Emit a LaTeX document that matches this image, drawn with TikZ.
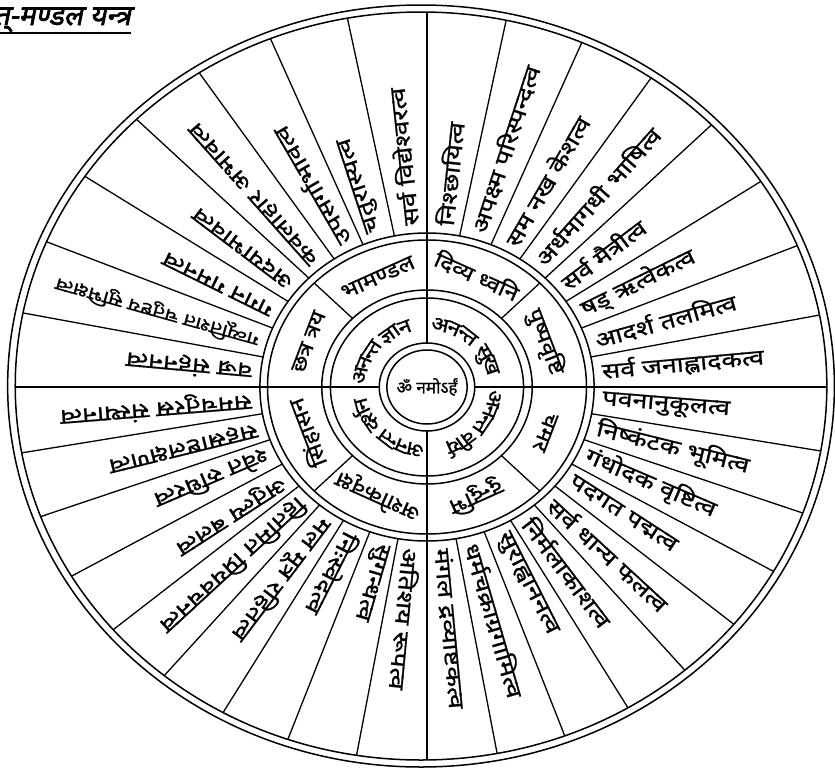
\documentclass[tikz,border=0pt]{standalone}
\usepackage{fontspec}
\setmainfont{Noto Sans}[Script=Devanagari,FakeBold=1]
\newfontfamily\gunafont{Noto Sans}[Script=Devanagari,FakeBold=1,FakeStretch=1.25]
\newfontfamily\pratifont{Noto Sans}[Script=Devanagari,FakeBold=1,FakeStretch=1.15]
\newfontfamily\titlefont{Noto Sans}[Script=Devanagari,FakeSlant=0.2,FakeBold=2.5]

\begin{document}
\begin{tikzpicture}[
    x=1pt, y=1pt,
    ring/.style={line width=1.5pt},
    spoke/.style={line width=1.3pt},
    guna/.style={font=\gunafont\fontsize{21.5}{21.5}\selectfont, inner sep=1pt, anchor=west},
    pratihar/.style={font=\pratifont\fontsize{21}{21}\selectfont, inner sep=0pt, anchor=base},
    anant/.style={font=\pratifont\fontsize{20}{20}\selectfont, inner sep=0pt, anchor=base}
]
    \useasboundingbox (0,0) rectangle (835,-769);
    \clip (0,0) rectangle (835,-769);

    % Title
    \node[font=\titlefont\fontsize{28}{28}\selectfont, anchor=base east, inner sep=0pt] (title) at (131,-25) {अर्हत्-मण्डल यन्त्र};
    \draw[line width=1.5pt] ([yshift=-8pt]title.base west) -- ([yshift=-8pt]title.base east);

    \begin{scope}[shift={(427,-387)}, xscale=1.085]
        % Rings
        \draw[ring] (0,0) circle (37) (0,0) circle (44);
        \draw[ring] (0,0) circle (89) (0,0) circle (97);
        \draw[ring] (0,0) circle (147) (0,0) circle (154);
        \draw[ring] (-5.5,1) circle (374) (-5.5,1) circle (381);

        % Spokes
        \begin{scope}
            \clip (-5.5,1) circle (374);
            \foreach \a in {0,90,180,270}
                \draw[spoke] (\a:44) -- (\a:400);
            \foreach \k in {1,...,7} {
                \draw[spoke] ({90-11.25*\k}:154) -- ({90-11.25*\k}:400);
                \draw[spoke] ({90+11.25*\k}:154) -- ({90+11.25*\k}:400);
            }
            \foreach \k in {1,...,8} {
                \draw[spoke] ({-90+10*\k}:154) -- ({-90+10*\k}:400);
                \draw[spoke] ({-90-10*\k}:154) -- ({-90-10*\k}:400);
            }
        \end{scope}
        \foreach \a in {45,135,225,315}
            \draw[spoke] (\a:97) -- (\a:147);

        % Centre
        \node[font=\fontsize{17}{17}\selectfont, inner sep=0pt] (mantra) at (0,0) {ॐ नमोऽर्हं};

        % Ananta chatushtaya
        \foreach \b/\c/\d [count=\i] in {135/अ/-34, 135/न/-22, 135/न्त/-9, 135/ज्ञा/12, 135/न/26,
                                         45/अ/-34, 45/न/-22, 45/न्त/-9, 45/सु/12, 45/ख/25,
                                         -45/अ/-34, -45/न/-22, -45/न्त/-9, -45/वी/11, -45/र्य/23,
                                         -135/अ/-35, -135/न/-23, -135/न्त/-10, -135/द/8, -135/र्श/18, -135/न/29} {
            \pgfmathsetmacro\p{\b-\d}
            \pgfmathsetmacro\rot{atan2(sin(\p),1.085*cos(\p))-90}
            \node[anant, rotate=\rot] (anant-\i) at (\p:57) {\c};
        }

        % Pratiharya
        \foreach \a/\t [count=\i] in {112.5/भामण्डल, 67.5/दिव्य ध्वनि, 22.5/पुष्पवृष्टि, -22.5/चमर,
                                      -67.5/दुन्दुभि, -112.5/अशोकवृक्ष, -157.5/सिंहासन, 157.5/छत्र त्रय} {
            \pgfmathsetmacro\rot{atan2(sin(\a),1.085*cos(\a))-90}
            \node[pratihar, rotate=\rot] (pratiharya-\i) at (\a:112) {\t};
        }

        % Atishaya
        \foreach \a/\t [count=\i] in {84.375/निश्छायित्व, 73.125/अपक्ष्म परिस्पन्दत्व, 61.875/सम नख केशत्व,
                                      50.625/अर्धमागधी भाषित्व, 39.375/सर्व मैत्रीत्व, 28.125/षड् ऋत्वेकत्व,
                                      16.875/आदर्श तलमित्व, 5.625/सर्व जनाह्लादकत्व,
                                      -5/पवनानुकूलत्व, -15/निष्कंटक भूमित्व, -25/गंधोदक वृष्टित्व,
                                      -35/पदगत पद्मत्व, -45/सर्व धान्य फलत्व, -55/निर्मलाकाशत्व,
                                      -65/सुराह्वाननत्व, -75/धर्मचक्राग्रगामित्व, -85/मंगल द्रव्याष्टकत्व,
                                      -95/अतिशय रूपत्व, -105/सुगन्धत्व, -115/निःस्वेदत्व,
                                      -125/मल मूत्र रहितत्व, -135/हितमित प्रियवचनत्व, -145/अतुल्य बलत्व,
                                      -155/श्वेत रुधिरत्व, -165/सहस्राष्टलक्षणत्व, -175/समचतुरस्र संस्थानत्व,
                                      174.375/वज्र संहननत्व,
                                      163.125/{\fontsize{17.5}{17.5}\selectfont गव्यूतिशत चतुष्टय सुभिक्षत्व},
                                      151.875/गगन गमनत्व, 140.625/अदयाभावत्व, 129.375/कवलाहार अभावत्व,
                                      118.125/उपसर्गाभावत्व, 106.875/चतुरास्यत्व, 95.625/सर्व विद्येश्वरत्व} {
            \pgfmathsetmacro\rot{atan2(sin(\a),1.085*cos(\a))}
            \node[guna, rotate=\rot] (atishaya-\i) at (\a:161) {\t};
        }
    \end{scope}
\end{tikzpicture}
\end{document}
